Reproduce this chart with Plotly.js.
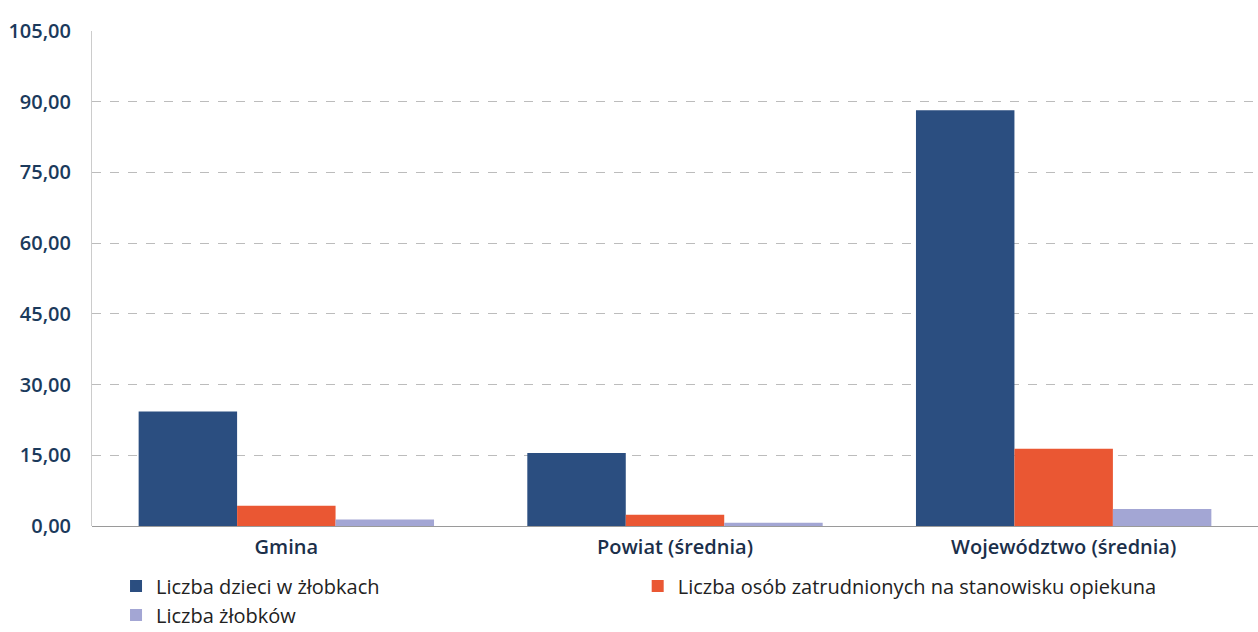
<!DOCTYPE html>
<html>
<head>
<meta charset="utf-8">
<script src="https://cdn.plot.ly/plotly-3.0.1.min.js"></script>
<style>html,body{margin:0;padding:0;background:#fff;}#chart{width:1258px;height:632px;}</style>
</head>
<body>
<div id="chart"></div>
<script>
const categories = ["Gmina", "Powiat (średnia)", "Województwo (średnia)"];
const seriesNames = ["Liczba dzieci w żłobkach", "Liczba osób zatrudnionych na stanowisku opiekuna", "Liczba żłobków"];
const dzieci = [24.3, 15.5, 88.2];
const opiekunowie = [4.3, 2.4, 16.4];
const zlobki = [1.4, 0.7, 3.6];
const yTicks = [0, 15, 30, 45, 60, 75, 90, 105];

const colors = ["#2b4e80", "#ea5733", "#a3a6d4"];
const legendRefs = ["legend", "legend2", "legend"];
const values = [dzieci, opiekunowie, zlobki];

const traces = values.map((v, i) => ({
  type: "bar",
  name: seriesNames[i],
  x: categories,
  y: v,
  legend: legendRefs[i],
  marker: { color: colors[i], line: { width: 0 } },
  hoverinfo: "x+y+name"
}));

const legendFont = { size: 20, color: "#222222", family: "Open Sans, sans-serif" };

const layout = {
  width: 1258,
  height: 632,
  margin: { l: 92, r: 0, t: 31, b: 106, autoexpand: false },
  paper_bgcolor: "#ffffff",
  plot_bgcolor: "#ffffff",
  separators: ",.",
  barmode: "group",
  bargap: 0.24,
  bargroupgap: 0,
  font: { family: "Open Sans, sans-serif", color: "#1d3557" },
  xaxis: {
    type: "category",
    showgrid: false,
    showline: false,
    zeroline: false,
    ticks: "",
    tickfont: { size: 20, color: "#1b2f4a", family: "Open Sans, sans-serif", weight: 600 },
    ticklabelstandoff: 7
  },
  yaxis: {
    range: [0, 105],
    tickvals: yTicks,
    tickformat: ".2f",
    showgrid: true,
    gridcolor: "#bcbcbc",
    griddash: "dash",
    gridwidth: 1,
    zeroline: true,
    zerolinecolor: "#9a9a9a",
    zerolinewidth: 1,
    showline: true,
    linecolor: "#cccccc",
    linewidth: 1,
    tickfont: { size: 20, color: "#1b3a5c", family: "Open Sans, sans-serif", weight: 600 },
    ticks: "",
    ticklabelstandoff: 16
  },
  legend: {
    orientation: "v",
    x: 0.0206,
    xanchor: "left",
    y: -0.082,
    yanchor: "top",
    font: legendFont,
    itemwidth: 30,
    tracegroupgap: 0,
    traceorder: "normal",
    bgcolor: "rgba(0,0,0,0)"
  },
  legend2: {
    orientation: "v",
    x: 0.468,
    xanchor: "left",
    y: -0.082,
    yanchor: "top",
    font: legendFont,
    itemwidth: 30,
    tracegroupgap: 0,
    bgcolor: "rgba(0,0,0,0)"
  },
  showlegend: true
};

Plotly.newPlot("chart", traces, layout, { displayModeBar: false, staticPlot: true });
</script>
</body>
</html>
